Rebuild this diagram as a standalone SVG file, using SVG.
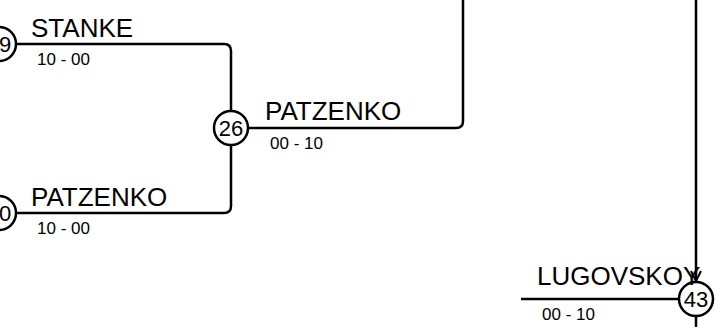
<svg xmlns="http://www.w3.org/2000/svg" width="715" height="327" viewBox="0 0 715 327">
<style>
.ln{fill:none;stroke:#000;stroke-width:2.5}
.nd{fill:#fff;stroke:#000;stroke-width:2.5}
.num{font-family:"Liberation Sans",Arial,sans-serif;font-size:22px;text-anchor:middle;fill:#000}
.name{font-family:"Liberation Sans",Arial,sans-serif;font-size:26px;fill:#000}
.score{font-family:"Liberation Sans",Arial,sans-serif;font-size:17px;fill:#000}
</style>
<defs>
<marker id="arr" viewBox="0 0 12 12" refX="11" refY="6" markerWidth="12" markerHeight="12" markerUnits="userSpaceOnUse" orient="auto">
<path d="M1,1 L11,6 L1,11" fill="none" stroke="#000" stroke-width="2"/>
</marker>
</defs>
<g id="connectors">
<path class="ln" d="M16,44 H224 Q231,44 231,51 V111"/>
<path class="ln" d="M16,213 H224 Q231,213 231,206 V145"/>
<path class="ln" d="M248,128 H456 Q463,128 463,121 V0"/>
<path class="ln" d="M696,0 V281" marker-end="url(#arr)"/>
<path class="ln" d="M521,299 H679"/>
<path class="ln" d="M696,317 V327"/>
</g>
<g id="n19">
<circle class="nd" cx="-1" cy="44" r="17"/>
<text class="num" x="5" y="52">9</text>
</g>
<g id="n20">
<circle class="nd" cx="-1" cy="213" r="17"/>
<text class="num" x="5" y="221">0</text>
</g>
<g id="n26">
<circle class="nd" cx="231" cy="128" r="17"/>
<text class="num" x="231" y="136">26</text>
</g>
<g id="n43">
<circle class="nd" cx="696" cy="299" r="17"/>
<text class="num" x="696" y="307">43</text>
</g>
<g id="labels">
<text class="name" x="31" y="37">STANKE</text>
<text class="score" x="37" y="65">10 - 00</text>
<text class="name" x="31" y="206">PATZENKO</text>
<text class="score" x="37" y="234">10 - 00</text>
<text class="name" x="265" y="120">PATZENKO</text>
<text class="score" x="270" y="149">00 - 10</text>
<text class="name" x="537" y="285">LUGOVSKOY</text>
<text class="score" x="542" y="320">00 - 10</text>
</g>
</svg>
